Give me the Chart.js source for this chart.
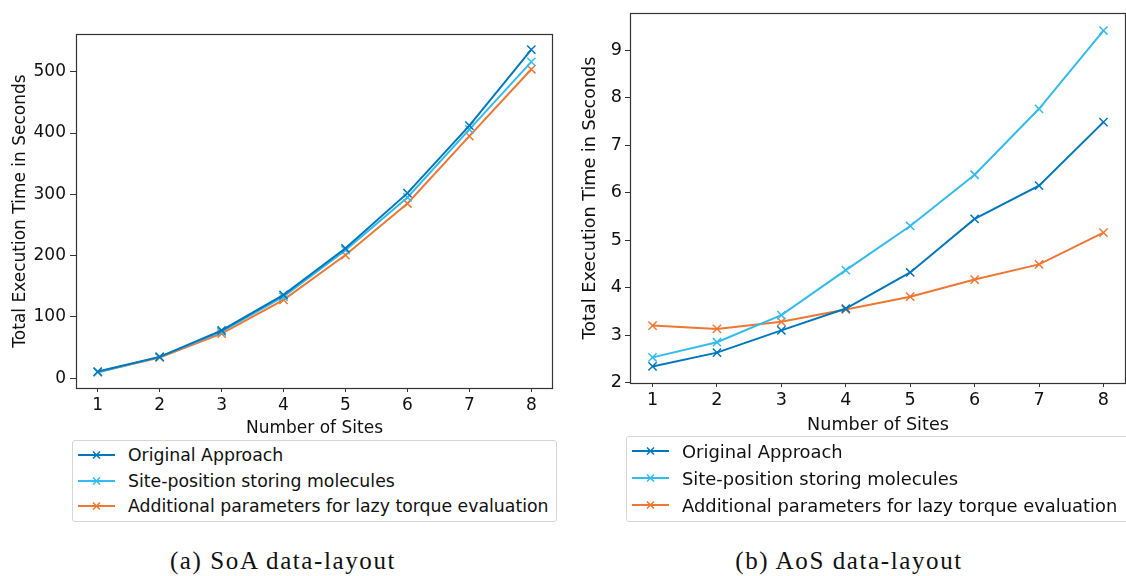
<!DOCTYPE html>
<html>
<head>
<meta charset="utf-8">
<script src="https://cdn.jsdelivr.net/npm/chart.js@4.4.0/dist/chart.umd.min.js"></script>
<style>
  html, body { margin: 0; padding: 0; background: #fff; }
  body { width: 1126px; height: 576px; position: relative; overflow: hidden; font-family: "DejaVu Sans", sans-serif; }
  canvas { position: absolute; }
  #soaChart { left: 0; top: 0; }
  #aosChart { left: 566px; top: 0; }
  .legend {
    position: absolute; border: 1px solid #d6d6d6; border-radius: 3px; background: #fff;
    box-sizing: border-box; font-size: 17.3px; color: #111;
  }
  .legend .row { position: absolute; left: 0; height: 20px; display: flex; align-items: center; white-space: nowrap; }
  .legend svg { display: block; margin-left: 5px; margin-right: 13px; }
  #soaLegend { left: 72px; top: 440px; width: 485px; height: 82px; }
  #aosLegend { left: 626px; top: 436px; width: 510px; height: 86px; font-size: 17.9px; }
  .caption {
    position: absolute; top: 547px; font-family: "Liberation Serif", serif; font-size: 25px;
    color: #111; letter-spacing: 1.6px; white-space: nowrap; transform: translateX(-50%);
  }
</style>
</head>
<body>
<canvas id="soaChart" width="560" height="440"></canvas>
<canvas id="aosChart" width="560" height="440"></canvas>
<div class="legend" id="soaLegend"></div>
<div class="legend" id="aosLegend"></div>
<div class="caption" style="left:283px">(a) SoA data-layout</div>
<div class="caption" style="left:849px">(b) AoS data-layout</div>

<script>
// ========================================
// DATA
// ========================================

const sites = [1, 2, 3, 4, 5, 6, 7, 8];
const seriesNames = [
    'Original Approach',
    'Site-position storing molecules',
    'Additional parameters for lazy torque evaluation'
];
const seriesColors = ['#0077BB', '#33BBEE', '#EE7733'];

// (a) SoA data-layout
const soaOriginal = [11, 35, 78, 136, 212, 302, 412, 536];
const soaSitePos  = [10, 35, 76, 133, 209, 295, 406, 516];
const soaLazy     = [10, 34, 73, 128, 201, 285, 395, 504];
const soaYTicks   = [0, 100, 200, 300, 400, 500];

// (b) AoS data-layout
const aosOriginal = [2.34, 2.63, 3.10, 3.56, 4.32, 5.45, 6.15, 7.49];
const aosSitePos  = [2.53, 2.85, 3.42, 4.37, 5.30, 6.38, 7.77, 9.42];
const aosLazy     = [3.20, 3.13, 3.28, 3.54, 3.81, 4.17, 4.49, 5.16];
const aosYTicks   = [2, 3, 4, 5, 6, 7, 8, 9];

const textColor = '#111';
const axisColor = '#333';

// ========================================
// HELPERS
// ========================================

// draws the full matplotlib-style box around the plot area
const frameBox = {
    id: 'frameBox',
    afterDatasetsDraw(chart) {
        const { ctx, chartArea: { top, bottom, left, right } } = chart;
        ctx.save();
        ctx.strokeStyle = axisColor;
        ctx.lineWidth = 1.2;
        ctx.strokeRect(left + 0.5, top + 0.5, right - left - 1, bottom - top);
        ctx.restore();
    }
};

function makeDatasets(values) {
    return values.map((vals, i) => ({
        label: seriesNames[i],
        data: sites.map((s, j) => ({ x: s, y: vals[j] })),
        borderColor: seriesColors[i],
        backgroundColor: seriesColors[i],
        borderWidth: 2,
        pointStyle: 'crossRot',
        pointRadius: 5.8,
        pointBorderWidth: 1.5,
        pointHoverRadius: 5.8,
        tension: 0,
        fill: false
    }));
}

function initLineChart(canvas, cfg) {
    const font = { family: 'DejaVu Sans', size: cfg.fontSize };
    return new Chart(canvas.getContext('2d'), {
        type: 'line',
        data: { datasets: makeDatasets(cfg.values) },
        options: {
            responsive: false,
            animation: false,
            layout: { padding: cfg.padding, autoPadding: false },
            plugins: { legend: { display: false }, tooltip: { enabled: false } },
            scales: {
                x: {
                    type: 'linear',
                    min: 0.65,
                    max: 8.35,
                    afterBuildTicks: (scale) => { scale.ticks = sites.map(v => ({ value: v })); },
                    afterFit: (scale) => {
                        scale.height = cfg.xHeight;
                        scale.paddingLeft = 0;
                        scale.paddingRight = 0;
                    },
                    grid: { drawOnChartArea: false, drawTicks: true, tickLength: 4, tickColor: axisColor },
                    border: { display: false },
                    ticks: { color: textColor, font: font, padding: 3, maxRotation: 0 },
                    title: {
                        display: true,
                        text: 'Number of Sites',
                        color: textColor,
                        font: font,
                        padding: { top: 0, bottom: cfg.xTitlePad }
                    }
                },
                y: {
                    type: 'linear',
                    min: cfg.yMin,
                    max: cfg.yMax,
                    afterBuildTicks: (scale) => { scale.ticks = cfg.yTicks.map(v => ({ value: v })); },
                    afterFit: (scale) => {
                        scale.width = cfg.yWidth;
                        scale.paddingTop = 0;
                        scale.paddingBottom = 0;
                    },
                    grid: { drawOnChartArea: false, drawTicks: true, tickLength: cfg.yTickLen, tickColor: axisColor },
                    border: { display: false },
                    ticks: { color: textColor, font: font, padding: cfg.yTickPad },
                    title: {
                        display: true,
                        text: 'Total Execution Time in Seconds',
                        color: textColor,
                        font: font,
                        padding: { top: cfg.yTitlePad, bottom: 0 }
                    }
                }
            }
        },
        plugins: [frameBox]
    });
}

function buildLegend(el, rowTops) {
    seriesNames.forEach((name, i) => {
        const row = document.createElement('div');
        row.className = 'row';
        row.style.top = rowTops[i] + 'px';
        const c = seriesColors[i];
        row.innerHTML =
            '<svg width="37" height="12" viewBox="0 0 37 12">' +
            '<line x1="0" y1="6" x2="37" y2="6" stroke="' + c + '" stroke-width="2"/>' +
            '<path d="M15 2.5 L22 9.5 M22 2.5 L15 9.5" stroke="' + c + '" stroke-width="1.5"/>' +
            '</svg><span>' + name + '</span>';
        el.appendChild(row);
    });
}

// ========================================
// CHARTS
// ========================================

initLineChart(document.getElementById('soaChart'), {
    values: [soaOriginal, soaSitePos, soaLazy],
    yMin: -15.8, yMax: 561.5, yTicks: soaYTicks,
    padding: { left: 0, top: 34, right: 7, bottom: 0 },
    yWidth: 76, xHeight: 52, fontSize: 17,
    yTickLen: 6, yTickPad: 4, yTitlePad: 10, xTitlePad: 1
});

initLineChart(document.getElementById('aosChart'), {
    values: [aosOriginal, aosSitePos, aosLazy],
    yMin: 1.99, yMax: 9.79, yTicks: aosYTicks,
    padding: { left: 0, top: 13, right: 0, bottom: 0 },
    yWidth: 64, xHeight: 57, fontSize: 17.6,
    yTickLen: 5, yTickPad: 3, yTitlePad: 14, xTitlePad: 4
});

buildLegend(document.getElementById('soaLegend'), [4, 30, 55]);
buildLegend(document.getElementById('aosLegend'), [4, 31, 58]);
</script>
</body>
</html>
